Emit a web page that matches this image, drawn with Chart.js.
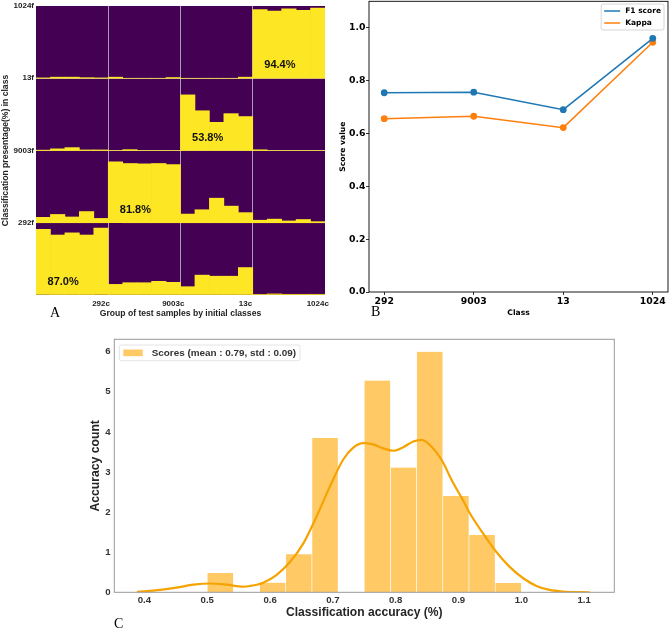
<!DOCTYPE html>
<html lang="en">
<head>
<meta charset="UTF-8">
<title>Classification results</title>
<script src="https://cdn.jsdelivr.net/npm/chart.js"></script>
<style>
  body { margin: 0; background: #fff; }
  .figure { position: relative; width: 669px; height: 631px; overflow: hidden; background: #fff; }
  .figure canvas { position: absolute; }
  #chartA { left: 0; top: 0; }
  #chartB { left: 335px; top: 0; }
  #chartC { left: 80px; top: 330px; }
  .panel-letter {
    position: absolute;
    font-family: "Liberation Serif", "Times New Roman", serif;
    font-size: 14px;
    line-height: 14px;
    color: #000;
  }
</style>
</head>
<body>
<div class="figure">
  <canvas id="chartA" width="335" height="322"></canvas>
  <canvas id="chartB" width="334" height="322"></canvas>
  <canvas id="chartC" width="560" height="301"></canvas>
  <div class="panel-letter" style="left:50px; top:306px">A</div>
  <div class="panel-letter" style="left:371px; top:305px">B</div>
  <div class="panel-letter" style="left:114px; top:617px">C</div>
</div>

<script>
// ---- panel A: where the test samples of each initial class end up ----
const colLabels = ['292c', '9003c', '13c', '1024c'];
const rowLabels = ['292f', '9003f', '13f', '1024f'];   // bottom to top
const diagLabels = ['87.0%', '81.8%', '53.8%', '94.4%'];
// percent per sub-bar, 5 sub-bars in each column group
const row292f  = [91, 83, 86, 83, 92.5,   14.7, 17, 17, 18.9, 17.5,   11.5, 27.5, 26, 26, 38,   0.5, 1.5, 1, 1, 1];
const row9003f = [7.5, 11.5, 8, 15.5, 6,  84.3, 82, 81.5, 82, 80.5,   12, 18, 34, 23, 14,       3.5, 5, 2.5, 4.5, 1.5];
const row13f   = [0.5, 2.3, 4, 0.8, 0.8,  0, 1.2, 0, 0, 0,            77, 55, 39, 51, 47,       1, 0, 0, 0, 0];
const row1024f = [0.5, 1.5, 1.5, 0.8, 0.5, 1.5, 0, 0, 0, 1,           0, 0, 0, 0, 1.5,          95, 93, 96, 94, 97];

// ---- panel B ----
const classNames = ['292', '9003', '13', '1024'];
const f1Scores = [0.754, 0.756, 0.690, 0.960];
const kappaScores = [0.656, 0.665, 0.622, 0.945];

// ---- panel C ----
const binCenters = [0.5208, 0.5625, 0.6042, 0.6458, 0.6875, 0.7292, 0.7708, 0.8125, 0.8542, 0.8958, 0.9375, 0.9792];
const binDensity = [0.48, 0, 0.24, 0.95, 3.85, 0, 5.28, 3.11, 6.0, 2.40, 1.43, 0.23];
const kdeX = [0.388, 0.425, 0.451, 0.478, 0.504, 0.531, 0.557, 0.568, 0.589, 0.610, 0.632, 0.653, 0.674, 0.695, 0.716,
              0.732, 0.748, 0.764, 0.780, 0.796, 0.812, 0.828, 0.841, 0.859, 0.875, 0.889, 0.907, 0.918, 0.939,
              0.960, 0.981, 1.003, 1.024, 1.045, 1.066, 1.109];
const kdeY = [0.01, 0.06, 0.115, 0.19, 0.22, 0.19, 0.14, 0.157, 0.24, 0.43, 0.76, 1.22, 1.89, 2.63, 3.30,
              3.60, 3.72, 3.69, 3.59, 3.53, 3.62, 3.76, 3.80, 3.60, 3.25, 2.80, 2.30, 1.97, 1.47,
              1.01, 0.64, 0.35, 0.16, 0.06, 0.02, 0.0];
const scoreLabel = 'Scores (mean : 0.79, std : 0.09)';

const SANS = '"Liberation Sans", Arial, sans-serif';
const DEJAVU = '"DejaVu Sans", sans-serif';

// force axis size so plot areas line up with the figure
function fixAxis(size) {
    return scale => {
        if (scale.isHorizontal()) scale.height = size; else scale.width = size;
        scale.paddingLeft = scale.paddingRight = scale.paddingTop = scale.paddingBottom = 0;
    };
}

// fills the plot area before anything else is drawn
const areaFill = {
    id: 'areaFill',
    beforeDraw(chart, args, opts) {
        if (!opts.color) return;
        const {ctx, chartArea: a} = chart;
        ctx.save();
        ctx.fillStyle = opts.color;
        ctx.fillRect(a.left, a.top, a.width, a.height);
        ctx.restore();
    }
};

// box around the plot area
const frame = {
    id: 'frame',
    afterDatasetsDraw(chart, args, opts) {
        if (!opts.color) return;
        const {ctx, chartArea: a} = chart;
        ctx.save();
        ctx.strokeStyle = opts.color;
        ctx.lineWidth = opts.width || 1;
        ctx.strokeRect(a.left, a.top, a.width, a.height);
        ctx.restore();
    }
};

// legend drawn inside the plot area
const boxLegend = {
    id: 'boxLegend',
    afterDraw(chart, args, o) {
        if (!o.font) return;
        const {ctx, chartArea: a} = chart;
        const items = chart.data.datasets.filter(d => d.label);
        ctx.save();
        ctx.font = o.font;
        const textW = Math.max(...items.map(d => ctx.measureText(d.label).width));
        const w = o.padX * 2 + o.sampleW + o.gap + textW;
        const h = o.padY * 2 + o.rowH * items.length;
        const x0 = o.align === 'right' ? a.right - o.insetX - w : a.left + o.insetX;
        const y0 = a.top + o.insetY;
        const r = 2;
        ctx.beginPath();
        ctx.moveTo(x0 + r, y0);
        ctx.lineTo(x0 + w - r, y0);
        ctx.quadraticCurveTo(x0 + w, y0, x0 + w, y0 + r);
        ctx.lineTo(x0 + w, y0 + h - r);
        ctx.quadraticCurveTo(x0 + w, y0 + h, x0 + w - r, y0 + h);
        ctx.lineTo(x0 + r, y0 + h);
        ctx.quadraticCurveTo(x0, y0 + h, x0, y0 + h - r);
        ctx.lineTo(x0, y0 + r);
        ctx.quadraticCurveTo(x0, y0, x0 + r, y0);
        ctx.closePath();
        ctx.fillStyle = 'rgba(255,255,255,0.85)';
        ctx.fill();
        ctx.strokeStyle = o.edge;
        ctx.lineWidth = 0.8;
        ctx.stroke();
        items.forEach((d, i) => {
            const cy = y0 + o.padY + o.rowH * (i + 0.5);
            const sx = x0 + o.padX;
            if (o.sample === 'line') {
                ctx.strokeStyle = d.borderColor;
                ctx.lineWidth = 1.5;
                ctx.beginPath();
                ctx.moveTo(sx, cy);
                ctx.lineTo(sx + o.sampleW, cy);
                ctx.stroke();
            } else {
                ctx.fillStyle = d.backgroundColor;
                ctx.fillRect(sx, cy - o.sampleH / 2, o.sampleW, o.sampleH);
            }
            ctx.fillStyle = o.color;
            ctx.textAlign = 'left';
            ctx.textBaseline = 'middle';
            ctx.fillText(d.label, sx + o.sampleW + o.gap, cy);
        });
        ctx.restore();
    }
};

// percentage written in the diagonal cells of panel A
const cellLabels = {
    id: 'cellLabels',
    afterDatasetsDraw(chart) {
        const {ctx, scales: {x, y}} = chart;
        ctx.save();
        ctx.font = 'bold 11px ' + SANS;
        ctx.fillStyle = '#111';
        ctx.textAlign = 'center';
        ctx.textBaseline = 'middle';
        diagLabels.forEach((t, i) => {
            ctx.fillText(t, x.getPixelForValue(i * 5 + 2) - 9, y.getPixelForValue(i * 100 + 18));
        });
        ctx.restore();
    }
};

window.addEventListener('DOMContentLoaded', () => {
    // Panel A
    const gridA = 'rgba(190,180,205,0.85)';
    const subLabels = colLabels.flatMap(c => [1, 2, 3, 4, 5].map(k => c + ' ' + k));
    const rowsA = [row292f, row9003f, row13f, row1024f];
    new Chart(document.getElementById('chartA'), {
        type: 'bar',
        data: {
            labels: subLabels,
            datasets: rowsA.map((vals, r) => ({
                label: rowLabels[r],
                data: vals.map(v => [r * 100, r * 100 + v]),
                backgroundColor: '#fde725',
                borderWidth: 0,
                grouped: false,
                barPercentage: 1,
                categoryPercentage: 1
            }))
        },
        options: {
            responsive: false,
            animation: false,
            layout: { autoPadding: false, padding: { top: 6, right: 10, left: 0, bottom: 0 } },
            plugins: {
                legend: { display: false },
                tooltip: { enabled: false },
                areaFill: { color: '#440154' }
            },
            scales: {
                x: {
                    type: 'category',
                    offset: true,
                    z: 1,
                    grid: {
                        offset: true,
                        drawTicks: false,
                        color: ctx => (ctx.index % 5 === 0 && ctx.index > 0) ? gridA : 'transparent'
                    },
                    border: { display: false },
                    ticks: {
                        autoSkip: false,
                        maxRotation: 0,
                        padding: 3.5,
                        color: '#222',
                        font: { family: SANS, size: 8, weight: 'bold' },
                        callback: (v, i) => i % 5 === 4 ? colLabels[Math.floor(i / 5)] : ''
                    },
                    title: {
                        display: true,
                        text: 'Group of test samples by initial classes',
                        color: '#222',
                        font: { family: SANS, size: 8.6, weight: 'bold' },
                        padding: { top: 0, bottom: 3 }
                    },
                    afterFit: fixAxis(27)
                },
                y: {
                    min: 0,
                    max: 400,
                    z: 1,
                    grid: {
                        drawTicks: false,
                        color: ctx => (ctx.tick && ctx.tick.value > 0 && ctx.tick.value < 400) ? gridA : 'transparent'
                    },
                    border: { display: false },
                    ticks: {
                        stepSize: 100,
                        padding: 2,
                        color: '#222',
                        font: { family: SANS, size: 8, weight: 'bold' },
                        callback: v => rowLabels[v / 100 - 1] || ''
                    },
                    title: {
                        display: true,
                        text: 'Classification presentage(%) in class',
                        color: '#222',
                        font: { family: SANS, size: 8.6, weight: 'bold' },
                        padding: { top: 0, bottom: 0 }
                    },
                    afterFit: fixAxis(36)
                }
            }
        },
        plugins: [areaFill, cellLabels]
    });

    // Panel B
    const tickFontB = { family: DEJAVU, size: 9.3, weight: 'bold' };
    const titleFontB = { family: DEJAVU, size: 7.6, weight: 'bold' };
    new Chart(document.getElementById('chartB'), {
        type: 'line',
        data: {
            datasets: [
                {
                    label: 'F1 score',
                    data: f1Scores.map((v, i) => ({ x: i, y: v })),
                    borderColor: '#1f77b4',
                    backgroundColor: '#1f77b4',
                    borderWidth: 1.5,
                    pointRadius: 3.4,
                    pointBorderWidth: 0,
                    tension: 0
                },
                {
                    label: 'Kappa',
                    data: kappaScores.map((v, i) => ({ x: i, y: v })),
                    borderColor: '#ff7f0e',
                    backgroundColor: '#ff7f0e',
                    borderWidth: 1.5,
                    pointRadius: 3.4,
                    pointBorderWidth: 0,
                    tension: 0
                }
            ]
        },
        options: {
            responsive: false,
            animation: false,
            layout: { autoPadding: false, padding: { top: 1.3, right: 1, left: 0, bottom: 0 } },
            plugins: {
                legend: { display: false },
                tooltip: { enabled: false },
                frame: { color: '#000', width: 0.9 },
                boxLegend: {
                    font: 'bold 7.5px ' + DEJAVU, color: '#000', edge: '#ccc', align: 'right',
                    insetX: 4, insetY: 2.7, padX: 3, padY: 1, rowH: 12, sample: 'line', sampleW: 16, gap: 5
                }
            },
            scales: {
                x: {
                    type: 'linear',
                    min: -0.17,
                    max: 3.17,
                    grid: { drawOnChartArea: false, tickLength: 3, tickColor: '#000', tickWidth: 0.8 },
                    border: { display: false },
                    ticks: {
                        stepSize: 1,
                        includeBounds: false,
                        padding: 1.2,
                        color: '#000',
                        font: tickFontB,
                        callback: v => classNames[v] ?? ''
                    },
                    title: { display: true, text: 'Class', color: '#000', font: titleFontB, padding: { top: 0, bottom: 4.4 } },
                    afterFit: fixAxis(30)
                },
                y: {
                    min: 0,
                    max: 1.1,
                    grid: { drawOnChartArea: false, tickLength: 3, tickColor: '#000', tickWidth: 0.8 },
                    border: { display: false },
                    ticks: {
                        stepSize: 0.2,
                        includeBounds: false,
                        padding: 0.5,
                        color: '#000',
                        font: tickFontB,
                        callback: v => v.toFixed(1)
                    },
                    title: { display: true, text: 'Score value', color: '#000', font: titleFontB, padding: { top: 3.4, bottom: 0 } },
                    afterFit: fixAxis(34)
                }
            }
        },
        plugins: [frame, boxLegend]
    });

    // Panel C
    const tickFontC = { family: SANS, size: 9.6, weight: 'bold' };
    new Chart(document.getElementById('chartC'), {
        type: 'bar',
        data: {
            datasets: [
                {
                    type: 'line',
                    data: kdeX.map((x, i) => ({ x: x, y: kdeY[i] })),
                    borderColor: '#f5a300',
                    borderWidth: 2.2,
                    pointRadius: 0,
                    cubicInterpolationMode: 'monotone',
                    order: 0
                },
                {
                    type: 'bar',
                    label: scoreLabel,
                    data: binCenters.map((x, i) => ({ x: x, y: binDensity[i] })),
                    backgroundColor: '#ffc966',
                    borderColor: 'rgba(255,255,255,0.9)',
                    borderWidth: { left: 0.6, right: 0.6, top: 0, bottom: 0 },
                    borderSkipped: false,
                    barPercentage: 1,
                    categoryPercentage: 1,
                    order: 1
                }
            ]
        },
        options: {
            responsive: false,
            animation: false,
            layout: { autoPadding: false, padding: { top: 9.3, right: 25.7, left: 0, bottom: 0 } },
            plugins: {
                legend: { display: false },
                tooltip: { enabled: false },
                frame: { color: '#999', width: 1 },
                boxLegend: {
                    font: 'bold 9.9px ' + SANS, color: '#333', edge: '#ddd', align: 'left',
                    insetX: 5, insetY: 5.7, padX: 4, padY: 1.5, rowH: 12.7, sample: 'box', sampleW: 19.4, sampleH: 6.7, gap: 9
                }
            },
            scales: {
                x: {
                    type: 'linear',
                    min: 0.352,
                    max: 1.148,
                    offset: false,
                    grid: { display: false, drawTicks: false, offset: false },
                    border: { display: false },
                    ticks: {
                        stepSize: 0.1,
                        includeBounds: false,
                        padding: 2.2,
                        color: '#333',
                        font: tickFontC,
                        callback: v => v.toFixed(1)
                    },
                    title: {
                        display: true,
                        text: 'Classification accuracy (%)',
                        color: '#262626',
                        font: { family: SANS, size: 12.1, weight: 'bold' },
                        padding: { top: 0, bottom: 11 }
                    },
                    afterFit: fixAxis(38.7)
                },
                y: {
                    min: 0,
                    max: 6.31,
                    grid: { display: false, drawTicks: false },
                    border: { display: false },
                    ticks: {
                        stepSize: 1,
                        includeBounds: false,
                        padding: 3.6,
                        color: '#333',
                        font: tickFontC,
                        callback: v => v
                    },
                    title: {
                        display: true,
                        text: 'Accuracy count',
                        color: '#262626',
                        font: { family: SANS, size: 12.2, weight: 'bold' },
                        padding: { top: 8.7, bottom: 0 }
                    },
                    afterFit: fixAxis(34.3)
                }
            }
        },
        plugins: [frame, boxLegend]
    });
});
</script>
</body>
</html>
